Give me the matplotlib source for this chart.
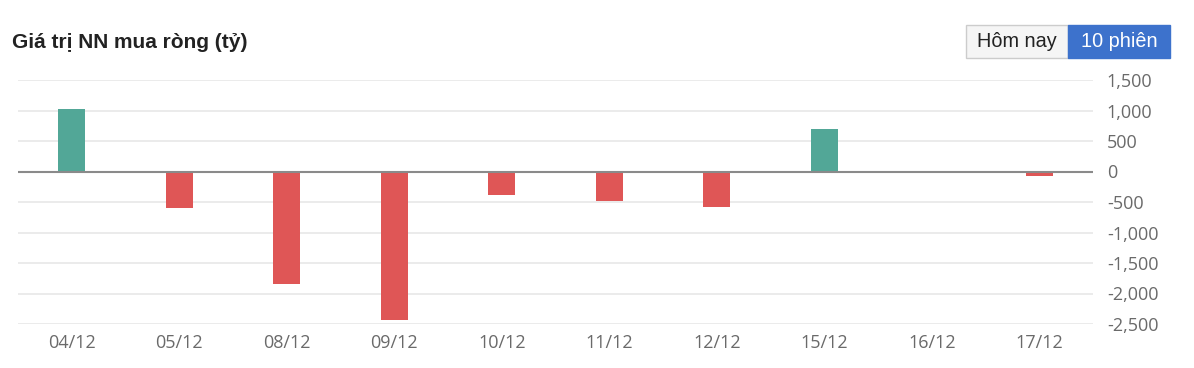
import matplotlib
matplotlib.use("Agg")
import matplotlib.pyplot as plt
from matplotlib.patches import Rectangle
from matplotlib.ticker import FuncFormatter

# data
dates = ['04/12', '05/12', '08/12', '09/12', '10/12', '11/12', '12/12', '15/12', '16/12', '17/12']
net_buy = [1030, -600, -1840, -2430, -380, -490, -590, 690, -10, -75]
y_ticks = [1500, 1000, 500, 0, -500, -1000, -1500, -2000, -2500]

GREEN = '#52a797'
RED = '#df5656'

fig = plt.figure(figsize=(11.94, 3.68), dpi=100)
ax = fig.add_axes([18/1194, 1 - 324/368, 1075/1194, 244/368])

colors = [GREEN if v > 0 else RED for v in net_buy]
ax.bar(range(len(dates)), net_buy, width=0.25, color=colors, zorder=3)

ax.set_xlim(-0.5, len(dates) - 0.5)
ax.set_ylim(-2500, 1500)
ax.set_yticks(y_ticks)
ax.yaxis.set_major_formatter(FuncFormatter(lambda v, p: f'{int(v):,}'))
ax.yaxis.tick_right()
ax.set_xticks(range(len(dates)))
ax.set_xticklabels(dates)

ax.grid(axis='y', color='#e8e8e8', linewidth=1.2, zorder=0)
ax.axhline(0, color='#8a8a8a', linewidth=1.5, zorder=4)
for s in ax.spines.values():
    s.set_visible(False)
ax.tick_params(length=0, labelsize=13, colors='#6a6a6a', labelfontfamily='Open Sans')
ax.tick_params(axis='y', pad=10)
ax.tick_params(axis='x', pad=7)

# title
fig.text(12/1194, 1 - 43/368, 'Giá trị NN mua ròng (tỷ)', fontsize=15, fontweight='bold',
         color='#222222', family='Liberation Sans', va='center', ha='left')

# buttons top right
fig.patches.append(Rectangle((966/1194, 1 - 58/368), 102/1194, 33/368, transform=fig.transFigure,
                             facecolor='#f5f5f5', edgecolor='#cccccc', linewidth=1))
fig.patches.append(Rectangle((1068/1194, 1 - 58/368), 102/1194, 33/368, transform=fig.transFigure,
                             facecolor='#3d72cc', edgecolor='#3d72cc', linewidth=1))
fig.text(1017/1194, 1 - 41.5/368, 'Hôm nay', fontsize=14.3, color='#222222',
         family='Liberation Sans', ha='center', va='center')
fig.text(1119/1194, 1 - 41.5/368, '10 phiên', fontsize=14.3, color='white',
         family='Liberation Sans', ha='center', va='center')

fig.savefig('out.png', dpi=100, facecolor='white')
